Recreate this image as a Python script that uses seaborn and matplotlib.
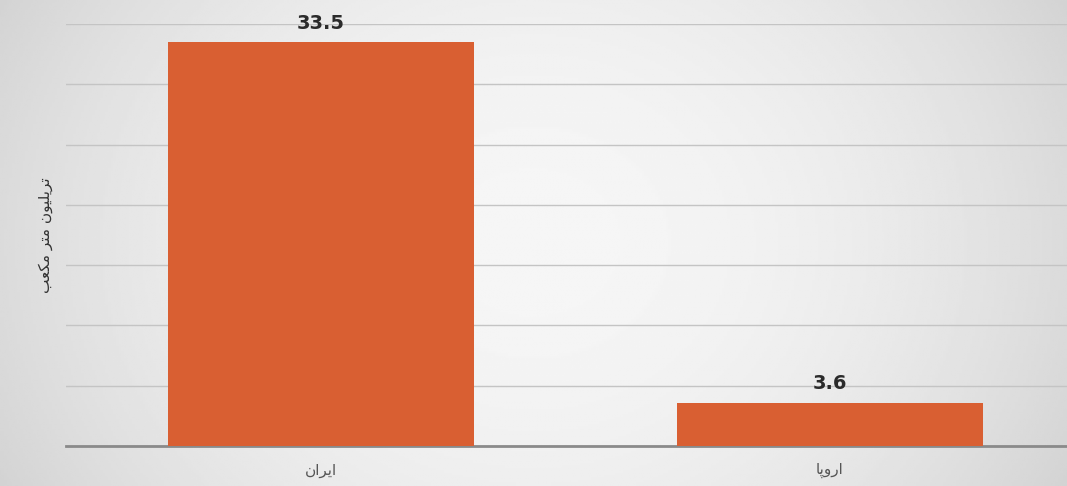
import numpy as np
import pandas as pd
import matplotlib
matplotlib.use('Agg')
import matplotlib.pyplot as plt
import seaborn as sns


# Data

categories = ['ایران', 'اروپا']
values = [33.5, 3.6]
y_label = 'تریلیون متر مکعب'


# Simple Arabic/Persian shaping (matplotlib has no shaping / bidi)

forms = {
    'ا': ('\uFE8D', '\uFE8E', None, None),
    'ب': ('\uFE8F', '\uFE90', '\uFE91', '\uFE92'),
    'پ': ('\uFB56', '\uFB57', '\uFB58', '\uFB59'),
    'ت': ('\uFE95', '\uFE96', '\uFE97', '\uFE98'),
    'ر': ('\uFEAD', '\uFEAE', None, None),
    'ع': ('\uFEC9', '\uFECA', '\uFECB', '\uFECC'),
    'ک': ('\uFB8E', '\uFB8F', '\uFB90', '\uFB91'),
    'ل': ('\uFEDD', '\uFEDE', '\uFEDF', '\uFEE0'),
    'م': ('\uFEE1', '\uFEE2', '\uFEE3', '\uFEE4'),
    'ن': ('\uFEE5', '\uFEE6', '\uFEE7', '\uFEE8'),
    'و': ('\uFEED', '\uFEEE', None, None),
    'ی': ('\uFBFC', '\uFBFD', '\uFBFE', '\uFBFF'),
}


def shape(text):
    out = []
    for i, ch in enumerate(text):
        if ch not in forms:
            out.append(ch)
            continue
        prev = text[i - 1] if i > 0 else None
        nxt = text[i + 1] if i < len(text) - 1 else None
        join_prev = prev in forms and forms[prev][2] is not None
        join_next = nxt in forms and forms[ch][2] is not None
        iso, fin, ini, med = forms[ch]
        if join_prev and join_next:
            out.append(med)
        elif join_prev:
            out.append(fin)
        elif join_next:
            out.append(ini)
        else:
            out.append(iso)
    return ''.join(out)[::-1]


# Figure

plt.rcParams['font.family'] = ['DejaVu Sans']

fig = plt.figure(figsize=(10.67, 4.86), dpi=100)

# background gradient
bg = fig.add_axes([0, 0, 1, 1], zorder=-1)
xx, yy = np.meshgrid(np.linspace(-1, 1, 400), np.linspace(-1, 1, 200))
grad = 1 - 0.35 * (xx ** 2) - 0.1 * (yy ** 2)
bg.imshow(grad, cmap='gray', vmin=-2.2, vmax=1.12, aspect='auto', extent=[0, 1, 0, 1])
bg.axis('off')

ax = fig.add_axes([0.0623, 0.0823, 0.954, 0.868])
ax.patch.set_alpha(0)

df = pd.DataFrame({'region': [shape(c) for c in categories], 'value': values})
sns.barplot(data=df, x='region', y='value', color='#D95F32', saturation=1,
            width=0.6, ax=ax, zorder=3)

ax.set_ylim(0, 35)
ax.set_xlim(-0.5, 1.5)
ax.set_yticks(np.arange(0, 36, 5))
ax.set_yticklabels([])
ax.tick_params(axis='both', length=0)
ax.tick_params(axis='x', pad=12, labelsize=11, labelcolor='#555555')
ax.grid(axis='y', color='#c4c4c4', linewidth=1, zorder=0)
ax.set_axisbelow(True)

for side in ['top', 'right', 'left']:
    ax.spines[side].set_visible(False)
ax.spines['bottom'].set_color('#8a8a8a')
ax.spines['bottom'].set_linewidth(2)

ax.set_xlabel('')
ax.set_ylabel(shape(y_label), fontsize=11, color='#333333', labelpad=6)

# value labels
for i, v in enumerate(values):
    ax.text(i, v + 0.8, f'{v}', ha='center', va='bottom', fontsize=14,
            fontweight='bold', color='#2b2b2b')

fig.savefig('out.png', dpi=100)
